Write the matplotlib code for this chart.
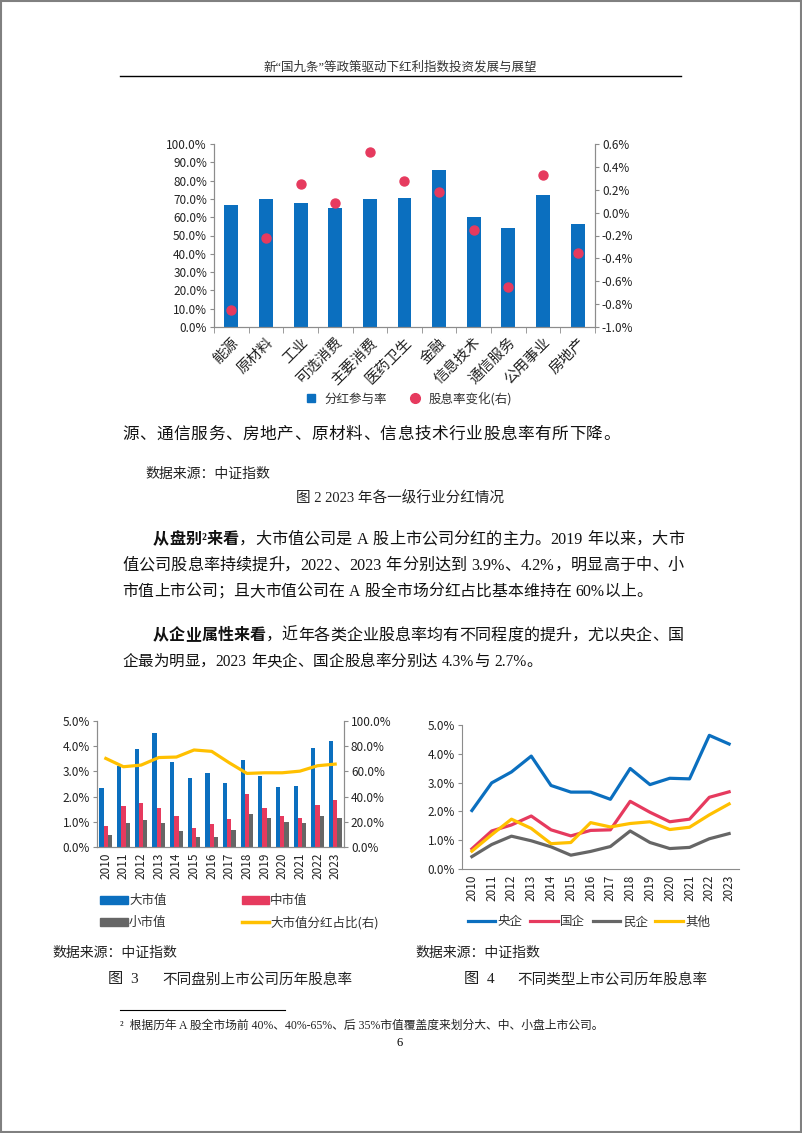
import numpy as np
import matplotlib.pyplot as plt
from matplotlib.lines import Line2D
from matplotlib.patches import Patch, Rectangle
from matplotlib.ticker import FuncFormatter

plt.rcParams['font.family'] = ['Noto Sans CJK SC', 'DejaVu Sans']
plt.rcParams['axes.unicode_minus'] = False

W, H = 802, 1133

# 图2 各一级行业分红情况
industries = ['能源', '原材料', '工业', '可选消费', '主要消费', '医药卫生',
              '金融', '信息技术', '通信服务', '公用事业', '房地产']
participation = [66.4, 70.2, 67.8, 64.9, 69.8, 70.6, 85.7, 60.0, 54.3, 72.0, 56.3]
yield_change = [-0.85, -0.22, 0.25, 0.08, 0.53, 0.28, 0.18, -0.15, -0.65, 0.33, -0.35]

# 图3 不同盘别
years = [str(y) for y in range(2010, 2024)]
large_cap = [2.35, 3.21, 3.87, 4.54, 3.37, 2.75, 2.93, 2.55, 3.47, 2.81, 2.40, 2.41, 3.94, 4.19]
mid_cap = [0.85, 1.62, 1.75, 1.53, 1.22, 0.76, 0.90, 1.11, 2.11, 1.53, 1.22, 1.15, 1.67, 1.86]
small_cap = [0.46, 0.95, 1.09, 0.95, 0.62, 0.40, 0.41, 0.68, 1.31, 1.14, 1.00, 0.97, 1.23, 1.14]
large_share = [70.3, 63.7, 65.0, 71.0, 71.4, 77.0, 75.9, 66.8, 58.4, 58.9, 58.9, 60.2, 64.5, 65.8]

# 图4 不同类型
central_soe = [2.03, 2.99, 3.37, 3.92, 2.90, 2.67, 2.67, 2.42, 3.49, 2.93, 3.15, 3.13, 4.64, 4.34]
local_soe = [0.70, 1.32, 1.53, 1.84, 1.36, 1.15, 1.34, 1.36, 2.35, 1.97, 1.64, 1.73, 2.49, 2.68]
private = [0.43, 0.85, 1.14, 0.98, 0.77, 0.48, 0.61, 0.78, 1.32, 0.92, 0.71, 0.75, 1.05, 1.23]
others = [0.62, 1.19, 1.73, 1.41, 0.88, 0.92, 1.61, 1.46, 1.58, 1.64, 1.37, 1.45, 1.88, 2.26]

blue = '#0b6fbf'
pink = '#e63a5e'
gray = '#666666'
yellow = '#ffc000'
spine_c = '#8c8c8c'
body = ['Liberation Serif', 'Noto Sans CJK SC']

fig = plt.figure(figsize=(W / 100, H / 100), dpi=100)
renderer = fig.canvas.get_renderer()


def box(x0, y0, x1, y1):
    return [x0 / W, 1 - y1 / H, (x1 - x0) / W, (y1 - y0) / H]


def pct(v, pos):
    return '%.1f%%' % (round(v, 6) + 0.0)


page = fig.add_axes([0, 0, 1, 1])
page.set_xlim(0, W)
page.set_ylim(H, 0)
page.axis('off')
page.add_patch(Rectangle((1, 1), W - 2, H - 2, fill=False, ec='#808080', lw=1.5))


def split_tokens(s):
    toks, buf = [], ''
    for ch in s:
        if ch == ' ':
            if buf:
                toks.append(buf)
                buf = ''
            toks.append(' ')
        elif ord(ch) < 0x2000:
            buf += ch
        else:
            if buf:
                toks.append(buf)
                buf = ''
            toks.append(ch)
    if buf:
        toks.append(buf)
    return toks


def make_tokens(y, parts, size, space):
    items = []
    for s, weight in parts:
        for tok in split_tokens(s):
            if tok == ' ':
                items.append((None, space))
            else:
                t = page.text(0, y, tok, va='center', fontsize=size, family=body,
                              fontweight=weight, color='#111111')
                items.append((t, t.get_window_extent(renderer).width))
    return items


# one line of body text, spread so it runs from x0 to x1 (shrunk a little if too long);
# spaces keep a fixed width, the slack goes between the other glyphs
def body_line(y, parts, x0, x1, size=12.0, space=4.5):
    items = make_tokens(y, parts, size, space)
    total = sum(w for _, w in items)
    if total > x1 - x0:
        for t, _ in items:
            if t is not None:
                t.remove()
        size = size * (x1 - x0) / total * 0.995
        items = make_tokens(y, parts, size, space)
        total = sum(w for _, w in items)
    n_gaps = sum(1 for i in range(len(items) - 1)
                 if items[i][0] is not None and items[i + 1][0] is not None)
    gap = max((x1 - x0 - total) / max(n_gaps, 1), 0)
    x = x0
    for i, (t, w) in enumerate(items):
        if t is not None:
            t.set_x(x)
        x += w
        if i < len(items) - 1 and t is not None and items[i + 1][0] is not None:
            x += gap


# header
page.text(400, 67, '新“国九条”等政策驱动下红利指数投资发展与展望', ha='center', va='center',
          fontsize=9, family=body, color='#333333')
page.plot([120, 681], [76, 76], color='black', lw=1)


def style_axes(ax, right=True):
    ax.spines['top'].set_visible(False)
    for s in ['left', 'bottom', 'right']:
        ax.spines[s].set_color(spine_c)
    if not right:
        ax.spines['right'].set_visible(False)
    ax.tick_params(colors=spine_c, labelcolor='#222222', labelsize=8.5, length=3, pad=2)


# ---- chart 1
ax1 = fig.add_axes(box(214, 144, 595, 327))
x1 = np.arange(len(industries))
ax1.bar(x1, participation, width=0.4, color=blue)
ax1.set_xlim(-0.5, len(industries) - 0.5)
ax1.set_ylim(0, 100)
ax1.set_yticks(np.arange(0, 101, 10))
ax1.yaxis.set_major_formatter(FuncFormatter(pct))
ax1.set_xticks(x1)
ax1.set_xticklabels(industries, rotation=45, ha='right', rotation_mode='anchor')
ax1.set_xticks(np.arange(-0.5, len(industries), 1), minor=True)
style_axes(ax1)
ax1.tick_params(axis='x', which='major', length=0, pad=6, labelsize=10.5)
ax1.tick_params(axis='x', which='minor', length=4, color=spine_c)
ax1r = ax1.twinx()
ax1r.scatter(x1, yield_change, s=42, color=pink, zorder=3)
ax1r.set_ylim(-1.0, 0.6)
ax1r.set_yticks(np.arange(-1.0, 0.61, 0.2))
ax1r.yaxis.set_major_formatter(FuncFormatter(pct))
style_axes(ax1r)
fig.legend(handles=[Line2D([], [], ls='none', marker='s', ms=6, color=blue, label='分红参与率'),
                    Line2D([], [], ls='none', marker='o', ms=7, color=pink, label='股息率变化(右)')],
           loc='center', bbox_to_anchor=(405 / W, 1 - 399 / H), ncol=2, frameon=False,
           fontsize=9, handletextpad=0.1, columnspacing=1.2, labelcolor='#333333')

# ---- body text
body_line(435, [('源、通信服务、房地产、原材料、信息技术行业股息率有所下降。', 'normal')], 122, 620)
page.text(145, 474, '数据来源：中证指数', va='center', fontsize=10, family=body, color='#222222')
page.text(400, 498, '图 2 2023 年各一级行业分红情况', ha='center', va='center', fontsize=10.5,
          family=body, color='#222222')

body_line(540, [('从盘别²来看', 'bold'),
                ('，大市值公司是 A 股上市公司分红的主力。2019 年以来，大市', 'normal')], 153, 684)
body_line(566, [('值公司股息率持续提升，2022、2023 年分别达到 3.9%、4.2%，明显高于中、小', 'normal')],
          122, 684)
body_line(592, [('市值上市公司；且大市值公司在 A 股全市场分红占比基本维持在 60%以上。', 'normal')],
          122, 652)
body_line(636, [('从企业属性来看', 'bold'),
                ('，近年各类企业股息率均有不同程度的提升，尤以央企、国', 'normal')], 153, 684)
body_line(662, [('企最为明显，2023 年央企、国企股息率分别达 4.3%与 2.7%。', 'normal')], 122, 542)

# ---- chart 3
ax3 = fig.add_axes(box(97, 721, 344, 847))
x3 = np.arange(len(years))
w = 0.24
ax3.bar(x3 - w, large_cap, width=w, color=blue)
ax3.bar(x3, mid_cap, width=w, color=pink)
ax3.bar(x3 + w, small_cap, width=w, color=gray)
ax3.set_xlim(-0.5, len(years) - 0.5)
ax3.set_ylim(0, 5)
ax3.set_yticks(np.arange(0, 5.1, 1))
ax3.yaxis.set_major_formatter(FuncFormatter(pct))
ax3.set_xticks(x3)
ax3.set_xticklabels(years, rotation=90)
style_axes(ax3)
ax3.tick_params(axis='x', length=0, pad=4)
ax3r = ax3.twinx()
ax3r.plot(x3, large_share, color=yellow, lw=2.3)
ax3r.set_ylim(0, 100)
ax3r.set_yticks(np.arange(0, 101, 20))
ax3r.yaxis.set_major_formatter(FuncFormatter(pct))
style_axes(ax3r)
fig.legend(handles=[Patch(color=blue, label='大市值'), Patch(color=gray, label='小市值'),
                    Patch(color=pink, label='中市值'),
                    Line2D([], [], color=yellow, lw=2.5, label='大市值分红占比(右)')],
           loc='upper left', bbox_to_anchor=(89 / W, 1 - 883 / H), ncol=2, frameon=False,
           fontsize=9, handlelength=2.2, handleheight=0.6, handletextpad=0.1,
           columnspacing=6.0, labelspacing=0.7, labelcolor='#333333')

# ---- chart 4
ax4 = fig.add_axes(box(462, 725, 739, 869))
x4 = np.arange(len(years))
ax4.plot(x4, central_soe, color=blue, lw=2.3, label='央企')
ax4.plot(x4, local_soe, color=pink, lw=2.3, label='国企')
ax4.plot(x4, private, color=gray, lw=2.3, label='民企')
ax4.plot(x4, others, color=yellow, lw=2.3, label='其他')
ax4.set_xlim(-0.5, len(years) - 0.5)
ax4.set_ylim(0, 5)
ax4.set_yticks(np.arange(0, 5.1, 1))
ax4.yaxis.set_major_formatter(FuncFormatter(pct))
ax4.set_xticks(x4)
ax4.set_xticklabels(years, rotation=90)
style_axes(ax4, right=False)
ax4.tick_params(axis='x', length=0, pad=4)
ax4.legend(loc='center', bbox_to_anchor=(589 / W, 1 - 922 / H), bbox_transform=fig.transFigure,
           ncol=4, frameon=False, fontsize=9, handlelength=2.2, handletextpad=0.2,
           columnspacing=0.6, labelcolor='#333333')

# ---- captions & footnote
page.text(52, 953, '数据来源：中证指数', va='center', fontsize=10, family=body, color='#222222')
page.text(415, 953, '数据来源：中证指数', va='center', fontsize=10, family=body, color='#222222')
page.text(108, 980, '图  3', va='center', fontsize=11, family=body, color='#222222')
page.text(162, 980, '不同盘别上市公司历年股息率', va='center', fontsize=10.5, family=body, color='#222222')
page.text(464, 980, '图  4', va='center', fontsize=11, family=body, color='#222222')
page.text(517, 980, '不同类型上市公司历年股息率', va='center', fontsize=10.5, family=body, color='#222222')
page.plot([120, 285], [1010, 1010], color='black', lw=0.8)
page.text(120, 1026, '²  根据历年 A 股全市场前 40%、40%-65%、后 35%市值覆盖度来划分大、中、小盘上市公司。',
          va='center', fontsize=8.5, family=body, color='#222222')
page.text(400, 1043, '6', ha='center', va='center', fontsize=9, family=body)

fig.savefig('out.png', dpi=100)
